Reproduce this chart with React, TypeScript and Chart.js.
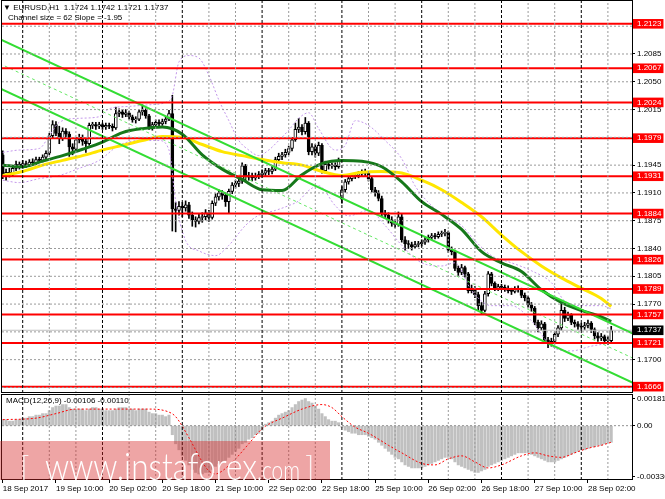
import React, { useEffect, useRef } from "react";
import { Chart, registerables } from "chart.js";

Chart.register(...registerables);

// ---------- DATA ----------
// H1 candles [open, high, low, close]; bar 0 = 18 Sep 2017 18:00
const candles: number[][] = [
  [1.1958, 1.1963, 1.1928, 1.1932], [1.1932, 1.194, 1.1926, 1.1936], [1.1936, 1.1941, 1.193, 1.1934], [1.1934, 1.1944, 1.1931, 1.1941],
  [1.1941, 1.195, 1.1938, 1.1946], [1.1946, 1.1949, 1.194, 1.1944], [1.1944, 1.1951, 1.1941, 1.1947], [1.1947, 1.195, 1.1942, 1.1945],
  [1.1945, 1.1952, 1.1943, 1.1949], [1.1949, 1.1953, 1.1945, 1.1948], [1.1948, 1.1955, 1.1946, 1.1952], [1.1952, 1.1955, 1.1948, 1.1951],
  [1.1951, 1.1958, 1.1949, 1.1955], [1.1955, 1.1963, 1.1953, 1.196], [1.196, 1.1985, 1.1958, 1.1982], [1.1982, 1.2001, 1.1979, 1.1996],
  [1.1996, 1.2, 1.1982, 1.1985], [1.1985, 1.1994, 1.1972, 1.1979], [1.1979, 1.1992, 1.1976, 1.1988], [1.1988, 1.1991, 1.198, 1.1984],
  [1.1984, 1.1987, 1.1956, 1.1968], [1.1968, 1.1972, 1.1958, 1.1965], [1.1965, 1.198, 1.1962, 1.1977], [1.1977, 1.1984, 1.1973, 1.198],
  [1.198, 1.1983, 1.197, 1.1975], [1.1975, 1.1978, 1.1961, 1.1972], [1.1972, 1.1998, 1.197, 1.1995], [1.1995, 1.1999, 1.1991, 1.1996],
  [1.1996, 1.1999, 1.199, 1.1994], [1.1994, 1.1999, 1.1991, 1.1996], [1.1996, 1.1998, 1.199, 1.1993], [1.1993, 1.1998, 1.199, 1.1995],
  [1.1995, 1.1998, 1.1991, 1.1994], [1.1994, 1.1997, 1.1988, 1.1992], [1.1992, 1.2018, 1.199, 1.201], [1.201, 1.2016, 1.2006, 1.2012],
  [1.2012, 1.2015, 1.2005, 1.2009], [1.2009, 1.2015, 1.2006, 1.2011], [1.2011, 1.2013, 1.2003, 1.2006], [1.2006, 1.2008, 1.1999, 1.2002],
  [1.2002, 1.2006, 1.1998, 1.2003], [1.2003, 1.2015, 1.2001, 1.2012], [1.2012, 1.2021, 1.2008, 1.2014], [1.2014, 1.2016, 1.2004, 1.2007],
  [1.2007, 1.2009, 1.199, 1.1993], [1.1993, 1.1999, 1.1989, 1.1996], [1.1996, 1.2002, 1.1993, 1.1999], [1.1999, 1.2002, 1.1994, 1.1997],
  [1.1997, 1.2003, 1.1995, 1.2], [1.2, 1.2006, 1.1997, 1.2003], [1.2003, 1.2014, 1.2001, 1.201], [1.201, 1.2033, 1.1862, 1.189],
  [1.189, 1.1898, 1.1861, 1.1888], [1.1888, 1.1899, 1.1882, 1.1893], [1.1893, 1.1898, 1.188, 1.1891], [1.1891, 1.19, 1.1887, 1.1895],
  [1.1895, 1.1898, 1.1878, 1.1882], [1.1882, 1.1886, 1.1868, 1.1876], [1.1876, 1.188, 1.1867, 1.1874], [1.1874, 1.1884, 1.1871, 1.1879],
  [1.1879, 1.1885, 1.1873, 1.188], [1.188, 1.1889, 1.1876, 1.1885], [1.1885, 1.1888, 1.1874, 1.1879], [1.1879, 1.19, 1.1877, 1.1897],
  [1.1897, 1.1909, 1.1894, 1.1905], [1.1905, 1.1914, 1.1901, 1.191], [1.191, 1.1913, 1.1902, 1.1907], [1.1907, 1.191, 1.1893, 1.1899],
  [1.1899, 1.1915, 1.1884, 1.1912], [1.1912, 1.1923, 1.1909, 1.192], [1.192, 1.1926, 1.1916, 1.1922], [1.1922, 1.1929, 1.1918, 1.1925],
  [1.1925, 1.1948, 1.1922, 1.1944], [1.1944, 1.1946, 1.1926, 1.193], [1.193, 1.1936, 1.1926, 1.1932], [1.1932, 1.1935, 1.1925, 1.1929],
  [1.1929, 1.1935, 1.1926, 1.1931], [1.1931, 1.1937, 1.1928, 1.1933], [1.1933, 1.1939, 1.193, 1.1935], [1.1935, 1.1941, 1.1932, 1.1938],
  [1.1938, 1.1941, 1.1933, 1.1937], [1.1937, 1.1944, 1.1934, 1.194], [1.194, 1.1955, 1.1938, 1.1952], [1.1952, 1.196, 1.1949, 1.1956],
  [1.1956, 1.1961, 1.1952, 1.1958], [1.1958, 1.1965, 1.1955, 1.1961], [1.1961, 1.1969, 1.1958, 1.1966], [1.1966, 1.198, 1.1963, 1.1977],
  [1.1977, 1.1998, 1.1975, 1.199], [1.199, 1.2004, 1.1986, 1.1993], [1.1993, 1.1996, 1.1983, 1.1987], [1.1987, 1.2005, 1.1984, 1.1998],
  [1.1998, 1.2, 1.1958, 1.1962], [1.1962, 1.1972, 1.1958, 1.1968], [1.1968, 1.1971, 1.1955, 1.196], [1.196, 1.1974, 1.1957, 1.197],
  [1.197, 1.1972, 1.1935, 1.1938], [1.1938, 1.195, 1.1935, 1.1946], [1.1946, 1.1949, 1.194, 1.1944], [1.1944, 1.1948, 1.1941, 1.1945],
  [1.1945, 1.1948, 1.1939, 1.1943], [1.1943, 1.1954, 1.1941, 1.195], [1.1902, 1.1918, 1.1897, 1.1914], [1.1914, 1.1927, 1.1911, 1.1924],
  [1.1924, 1.1931, 1.1921, 1.1928], [1.1928, 1.1934, 1.1925, 1.1931], [1.1931, 1.1935, 1.1928, 1.1932], [1.1932, 1.1937, 1.1929, 1.1934],
  [1.1934, 1.1939, 1.1931, 1.1936], [1.1936, 1.194, 1.1931, 1.1935], [1.1935, 1.1937, 1.1925, 1.1928], [1.1928, 1.193, 1.1911, 1.1914],
  [1.1914, 1.1917, 1.1906, 1.191], [1.191, 1.1913, 1.19, 1.1903], [1.1903, 1.1906, 1.188, 1.1884], [1.1884, 1.1888, 1.1878, 1.1882],
  [1.1882, 1.1885, 1.1872, 1.1876], [1.1876, 1.188, 1.1868, 1.1872], [1.1872, 1.1876, 1.1866, 1.187], [1.187, 1.1886, 1.1868, 1.188],
  [1.188, 1.1883, 1.1848, 1.1851], [1.1851, 1.1855, 1.1838, 1.1846], [1.1846, 1.185, 1.184, 1.1845], [1.1845, 1.1848, 1.1838, 1.1842],
  [1.1842, 1.1849, 1.184, 1.1845], [1.1845, 1.1849, 1.1842, 1.1846], [1.1846, 1.1851, 1.1843, 1.1848], [1.1848, 1.1854, 1.1845, 1.1851],
  [1.1851, 1.1857, 1.1848, 1.1854], [1.1854, 1.1859, 1.1851, 1.1856], [1.1856, 1.1859, 1.1852, 1.1855], [1.1855, 1.1861, 1.1853, 1.1858],
  [1.1858, 1.1862, 1.1855, 1.1859], [1.1859, 1.1864, 1.1856, 1.186], [1.186, 1.1862, 1.1835, 1.1838], [1.1838, 1.1842, 1.1832, 1.1836],
  [1.1836, 1.1838, 1.1812, 1.1815], [1.1815, 1.1818, 1.1806, 1.181], [1.181, 1.182, 1.1807, 1.1816], [1.1816, 1.1818, 1.1804, 1.1808],
  [1.1808, 1.181, 1.1784, 1.1787], [1.1787, 1.1794, 1.1784, 1.179], [1.179, 1.1792, 1.1778, 1.1782], [1.1782, 1.1785, 1.1762, 1.1768],
  [1.1768, 1.1772, 1.1757, 1.1762], [1.1762, 1.1786, 1.176, 1.1783], [1.1783, 1.1811, 1.178, 1.1808], [1.1808, 1.181, 1.1793, 1.1796],
  [1.1796, 1.1798, 1.1787, 1.179], [1.179, 1.1795, 1.1787, 1.1792], [1.1792, 1.1795, 1.1788, 1.1791], [1.1791, 1.1794, 1.1786, 1.1789],
  [1.1789, 1.1793, 1.1784, 1.1787], [1.1787, 1.179, 1.1782, 1.1786], [1.1786, 1.1792, 1.1784, 1.1789], [1.1789, 1.1793, 1.1785, 1.1788],
  [1.1788, 1.179, 1.1778, 1.1781], [1.1781, 1.1784, 1.1774, 1.1778], [1.1778, 1.178, 1.1766, 1.1769], [1.1769, 1.1772, 1.1761, 1.1765],
  [1.1765, 1.1767, 1.1744, 1.1747], [1.1747, 1.175, 1.1735, 1.174], [1.174, 1.1749, 1.1737, 1.1745], [1.1745, 1.1747, 1.1722, 1.1725],
  [1.1725, 1.1728, 1.1715, 1.172], [1.172, 1.1727, 1.1717, 1.1723], [1.1723, 1.1735, 1.172, 1.1732], [1.1732, 1.1743, 1.1729, 1.174],
  [1.174, 1.1772, 1.1737, 1.1762], [1.1762, 1.1766, 1.1748, 1.1752], [1.1752, 1.176, 1.1749, 1.1756], [1.1756, 1.1758, 1.1744, 1.1747],
  [1.1747, 1.175, 1.1741, 1.1745], [1.1745, 1.1748, 1.1738, 1.1742], [1.1742, 1.1746, 1.1737, 1.1741], [1.1741, 1.1747, 1.1738, 1.1743],
  [1.1743, 1.175, 1.174, 1.1746], [1.1746, 1.1748, 1.1734, 1.1738], [1.1738, 1.174, 1.1726, 1.173], [1.173, 1.1734, 1.1723, 1.1727],
  [1.1727, 1.1733, 1.1724, 1.1729], [1.1729, 1.1731, 1.172, 1.1724], [1.1724, 1.1729, 1.1719, 1.1724], [1.1724, 1.1742, 1.1721, 1.1737],
];

// fast MA (dark green) [bar, price]
const maFast: number[][] = [
  [0, 1.1945], [6, 1.1943], [12, 1.195], [18, 1.1957], [24, 1.1965], [30, 1.1974], [36, 1.1986], [42, 1.1991],
  [48, 1.1993], [54, 1.1984], [60, 1.1958], [66, 1.194], [72, 1.1927], [78, 1.1914], [84, 1.1913], [90, 1.1933],
  [96, 1.1947], [102, 1.1951], [108, 1.195], [114, 1.1943], [120, 1.1924], [126, 1.1899], [132, 1.1883], [138, 1.1864],
  [144, 1.1836], [150, 1.1822], [156, 1.1811], [162, 1.1788], [168, 1.1772], [174, 1.1762], [180, 1.1754], [183, 1.1748],
];
// slow MA (yellow) [bar, price]
const maSlow: number[][] = [
  [0, 1.1932], [6, 1.1937], [12, 1.1945], [18, 1.1951], [24, 1.1957], [30, 1.1964], [36, 1.197], [42, 1.1976],
  [48, 1.1981], [54, 1.198], [60, 1.1971], [66, 1.1962], [72, 1.1957], [78, 1.1952], [84, 1.1948], [90, 1.1945],
  [96, 1.1937], [102, 1.1932], [108, 1.1936], [114, 1.1937], [120, 1.1935], [126, 1.1926], [132, 1.1914], [138, 1.1898],
  [144, 1.188], [150, 1.1857], [156, 1.1836], [162, 1.1818], [168, 1.1803], [174, 1.179], [180, 1.1777], [183, 1.1767],
];
// envelope bands (violet dotted) [bar, price]
const bandUpper: number[][] = [
  [0, 1.1961], [5, 1.1964], [11, 1.1966], [14, 1.1982], [17, 1.1999], [23, 1.2004], [29, 1.2006], [32, 1.2016],
  [38, 1.2019], [44, 1.2021], [49, 1.2024], [51, 1.2033], [53, 1.2075], [56, 1.2083], [59, 1.208], [62, 1.2058],
  [65, 1.2027], [68, 1.2001], [71, 1.1976], [74, 1.1964], [77, 1.1957], [80, 1.1964], [83, 1.1976], [86, 1.1989],
  [89, 1.2004], [92, 1.2011], [95, 1.1991], [100, 1.1964], [103, 1.197], [106, 1.2001], [110, 1.1995], [115, 1.1976],
  [120, 1.1953], [124, 1.1919], [129, 1.1894], [133, 1.1881], [138, 1.1869], [142, 1.185], [147, 1.1831], [153, 1.1822],
  [159, 1.1812], [165, 1.1797], [169, 1.1774], [174, 1.1768], [180, 1.1768], [183, 1.1764],
];
const bandLower: number[][] = [
  [0, 1.1926], [5, 1.1923], [11, 1.1928], [17, 1.1932], [23, 1.1941], [29, 1.1951], [35, 1.197], [41, 1.1976],
  [47, 1.1976], [50, 1.1964], [52, 1.19], [55, 1.185], [59, 1.1837], [64, 1.1831], [68, 1.1844], [73, 1.1869],
  [77, 1.1882], [82, 1.1888], [86, 1.1894], [89, 1.19], [92, 1.1913], [95, 1.1919], [100, 1.1894], [104, 1.1881],
  [110, 1.1888], [115, 1.1869], [120, 1.1844], [126, 1.1822], [132, 1.1818], [136, 1.1822], [141, 1.1787], [147, 1.1768],
  [153, 1.1768], [159, 1.1749], [165, 1.1717], [171, 1.1711], [177, 1.1717], [183, 1.1721],
];
// regression channel (slope -1.95 pips/bar, size 62 pips) [bar, price]
const channelUpper: number[][] = [[-1, 1.2104], [190, 1.1732]];
const channelMiddle: number[][] = [[-1, 1.2073], [190, 1.1701]];
const channelLower: number[][] = [[-1, 1.2042], [190, 1.167]];

const levels = [1.2123, 1.2067, 1.2024, 1.1979, 1.1931, 1.1884, 1.1826, 1.1789, 1.1757, 1.1721, 1.1666];
const currentPrice = 1.1737;
const priceGrid = [1.212, 1.2085, 1.205, 1.2015, 1.198, 1.1945, 1.191, 1.1875, 1.184, 1.1805, 1.177, 1.1735, 1.17, 1.1665];
const hiddenPriceLabels = [1.212, 1.198, 1.1735, 1.1665];

const timeLabels = [
  "18 Sep 2017", "19 Sep 10:00", "20 Sep 02:00", "20 Sep 18:00", "21 Sep 10:00", "22 Sep 02:00",
  "22 Sep 18:00", "25 Sep 10:00", "26 Sep 02:00", "26 Sep 18:00", "27 Sep 10:00", "28 Sep 02:00",
];
const timeLabelBars = [0, 16, 32, 48, 64, 80, 96, 112, 128, 144, 160, 176];
const gridBars = [14, 22, 38, 46, 62, 70, 86, 94, 110, 118, 134, 142, 158, 166, 182];
const daySeparators = [6, 30, 54, 78, 102, 126, 150, 174];

// MACD(12,26,9) histogram (main) per bar, and signal line [bar, value]
const macdMain = [
  0.0004, 0.0004, 0.0003, 0.0003, 0.0004, 0.0004,
  0.0005, 0.0005, 0.0006, 0.0006, 0.0007, 0.0007, 0.0008, 0.0008, 0.001,
  0.0012, 0.0013, 0.0013, 0.0014, 0.0014, 0.0012, 0.0011, 0.0011,
  0.0011, 0.0011, 0.001, 0.0011, 0.0012, 0.0012, 0.0011, 0.0011, 0.001, 0.001,
  0.001, 0.0011, 0.0012, 0.0012, 0.0012, 0.0011, 0.0011, 0.001, 0.0011, 0.0011, 0.0011, 0.0009,
  0.0008, 0.0008, 0.0007, 0.0007, 0.0006, 0.0007,
  -0.0006,
  -0.0012, -0.0016, -0.002, -0.0023, -0.0026,
  -0.0029, -0.0031, -0.0032, -0.0032, -0.0031, -0.0031, -0.0029,
  -0.0027, -0.0025, -0.0024, -0.0023, -0.0021, -0.0019, -0.0017, -0.0015, -0.0012, -0.0011, -0.0009, -0.0008, -0.0006, -0.0005,
  -0.0003, 0.0001, 0.0002, 0.0003,
  0.0005, 0.0007, 0.0008, 0.0009, 0.001, 0.0012, 0.0014, 0.0016, 0.0017, 0.0018,
  0.0016, 0.0015, 0.0013, 0.0011, 0.0008, 0.0006, 0.0004, 0.0003, 0.0003, 0.0002,
  -0.0001,
  -0.0003, -0.0004, -0.0005, -0.0005, -0.0006, -0.0006, -0.0006, -0.0007, -0.0008,
  -0.0009, -0.0011, -0.0013, -0.0015, -0.0017, -0.0019, -0.0021, -0.0022, -0.0024, -0.0026, -0.0027, -0.0028,
  -0.0028, -0.0028, -0.0028, -0.0027, -0.0026, -0.0025, -0.0024,
  -0.0023, -0.0022, -0.0021, -0.0021, -0.0022, -0.0024, -0.0026,
  -0.0027, -0.0028, -0.0029, -0.003, -0.0031, -0.0031,
  -0.003, -0.0029, -0.0027, -0.0026, -0.0025, -0.0024, -0.0023, -0.0022, -0.0021, -0.002, -0.0019, -0.0018, -0.0018, -0.0018, -0.0018,
  -0.0019, -0.002, -0.0021, -0.0022, -0.0023, -0.0024, -0.0024, -0.0024, -0.0023,
  -0.0022, -0.0021, -0.002, -0.0019, -0.0018, -0.0017, -0.0016, -0.0016, -0.0015, -0.0014, -0.0014, -0.0013, -0.0013, -0.0012, -0.0011, -0.0011,
];
const macdSignal: number[][] = [
  [0, 0.0004], [10, 0.0005], [16, 0.0008], [22, 0.0011], [30, 0.0011], [38, 0.0011], [44, 0.0011], [50, 0.0009],
  [52, 0.0006], [56, -0.0008], [60, -0.0024], [62, -0.003], [64, -0.0032], [66, -0.003], [70, -0.0022], [74, -0.0012],
  [78, -0.0002], [80, 0.0001], [84, 0.0005], [90, 0.0011], [96, 0.0014], [99, 0.0012], [102, 0.0006], [106, -0.0001],
  [110, -0.0005], [116, -0.0013], [120, -0.0018], [126, -0.0025], [130, -0.0026], [134, -0.0022], [138, -0.002], [142, -0.0024],
  [146, -0.0028], [150, -0.0026], [156, -0.002], [160, -0.0018], [164, -0.002], [168, -0.0021], [172, -0.0018], [176, -0.0015],
  [180, -0.0013], [183, -0.0011],
];
const macdTicks = [0.00181, 0, -0.00336];

// ---------- LAYOUT CONSTANTS ----------
const X_MIN = -0.2256;
const X_MAX = 189.25;
const P_MIN = 1.1658;
const P_MAX = 1.2153;
const M_MIN = -0.0036;
const M_MAX = 0.0021;
const FONT = "'Liberation Sans', Arial, sans-serif";
const GRID_GRAY = "#9a9a9a";

const near = (a: number, b: number) => Math.abs(a - b) < 1e-7;
const pts = (arr: number[][]) => arr.map((p) => ({ x: p[0], y: p[1] }));

// frame around the plot area
const framePlugin = {
  id: "frame",
  afterDraw(chart: any) {
    const { ctx, chartArea: a } = chart;
    ctx.save();
    ctx.strokeStyle = "#000";
    ctx.lineWidth = 1;
    ctx.strokeRect(Math.round(a.left) - 0.5, Math.round(a.top) + 0.5, Math.round(a.right - a.left) + 1, Math.round(a.bottom - a.top) - 1);
    ctx.restore();
  },
};

const noPad = (s: any) => {
  s.paddingLeft = 0;
  s.paddingRight = 0;
  s.paddingTop = 0;
  s.paddingBottom = 0;
};

const lineDs = (data: any[], color: string, width: number, order: number, dash: number[] = [], smooth = false) => ({
  type: "line",
  data,
  borderColor: color,
  borderWidth: width,
  borderDash: dash,
  pointRadius: 0,
  fill: false,
  order,
  tension: 0,
  cubicInterpolationMode: smooth ? "monotone" : "default",
});

// dotted grid lines drawn as datasets through the chart's scales
const verticalGridDs = (yMin: number, yMax: number) => [
  ...gridBars.map((b) => lineDs([{ x: b, y: yMin }, { x: b, y: yMax }], GRID_GRAY, 1, -2, [2, 2])),
  ...daySeparators.map((b) => lineDs([{ x: b, y: yMin }, { x: b, y: yMax }], "#000", 1, -3, [3, 2])),
];

const axisGrid = { drawOnChartArea: false, drawTicks: true, tickLength: 3, tickColor: "#000", color: "#000", offset: false };

export default function App() {
  const priceRef = useRef<HTMLCanvasElement | null>(null);
  const macdRef = useRef<HTMLCanvasElement | null>(null);
  const wwwRef = useRef<HTMLSpanElement | null>(null);
  const comRef = useRef<HTMLSpanElement | null>(null);

  useEffect(() => {
    // fit the watermark words to their widths in the reference
    const fit = (el: HTMLSpanElement | null, target: number) => {
      if (!el) return;
      el.style.transform = "none";
      const w = el.getBoundingClientRect().width;
      if (w > 0) el.style.transform = `scaleX(${target / w})`;
    };
    fit(wwwRef.current, 212);
    fit(comRef.current, 43);

    const charts: Chart[] = [];
    const tickFont = { family: FONT, size: 8 };

    // ----- price chart -----
    const priceTicks = [...priceGrid, ...levels, currentPrice];
    const isLevel = (v: number) => levels.some((l) => near(l, v));
    const isCurrent = (v: number) => near(v, currentPrice);

    const datasets: any[] = [
      ...verticalGridDs(P_MIN, P_MAX),
      ...priceGrid.map((v) => lineDs([{ x: X_MIN, y: v }, { x: X_MAX, y: v }], GRID_GRAY, 1, -2, [2, 2])),
      {
        type: "bar",
        data: candles.map((c, i) => ({ x: i, y: [c[2], c[1]] })),
        backgroundColor: "#000",
        barThickness: 1,
        grouped: false,
        order: 20,
      },
      {
        type: "bar",
        data: candles.map((c, i) => ({ x: i, y: [c[0], c[3]] })),
        backgroundColor: (c: any) => {
          const k = candles[c.dataIndex];
          return k && k[3] >= k[0] ? "#fff" : "#000";
        },
        borderColor: "#000",
        borderWidth: 1,
        borderSkipped: false,
        barThickness: 3,
        minBarLength: 1,
        grouped: false,
        order: 19,
      },
      lineDs(pts(bandUpper), "#c397ea", 1, 18, [2, 2], true),
      lineDs(pts(bandLower), "#c397ea", 1, 18, [2, 2], true),
      lineDs(pts(maSlow), "#ffe600", 3, 16, [], true),
      lineDs(pts(maFast), "#16781a", 3, 15, [], true),
      lineDs([{ x: X_MIN, y: currentPrice }, { x: X_MAX, y: currentPrice }], "#c0c0c0", 1, 14),
      lineDs(pts(channelMiddle), "#66e866", 1, 12, [3, 3]),
      lineDs(pts(channelUpper), "#33dd33", 2, 11),
      lineDs(pts(channelLower), "#33dd33", 2, 11),
      ...levels.map((l) => lineDs([{ x: X_MIN, y: l }, { x: X_MAX, y: l }], "#ff0000", 2, 5)),
    ];

    if (priceRef.current) {
      charts.push(
        new Chart(priceRef.current, {
          type: "bar",
          data: { datasets },
          options: {
            responsive: false,
            animation: false,
            events: [],
            layout: { padding: { left: 2, top: 0, right: 0, bottom: 0 }, autoPadding: false },
            plugins: { legend: { display: false }, tooltip: { enabled: false } },
            scales: {
              x: {
                type: "linear",
                min: X_MIN,
                max: X_MAX,
                bounds: "data",
                offset: false,
                position: "bottom",
                ticks: { display: false },
                grid: { ...axisGrid, drawTicks: false },
                border: { display: false },
                afterFit: (s: any) => { s.height = 0; noPad(s); },
              },
              y: {
                type: "linear",
                position: "right",
                min: P_MIN,
                max: P_MAX,
                bounds: "data",
                afterFit: (s: any) => { s.width = 33; noPad(s); },
                afterBuildTicks: (s: any) => {
                  s.ticks = priceTicks.map((v) => ({ value: v }));
                },
                ticks: {
                  autoSkip: false,
                  padding: 2,
                  font: tickFont,
                  callback: (v: any) => (hiddenPriceLabels.some((h) => near(h, v)) ? "" : Number(v).toFixed(4)),
                  color: (c: any) => (c.tick && (isLevel(c.tick.value) || isCurrent(c.tick.value)) ? "#fff" : "#000"),
                  showLabelBackdrop: true,
                  backdropPadding: { left: 4, right: 2, top: 0, bottom: 0 },
                  backdropColor: (c: any) =>
                    c.tick && isLevel(c.tick.value) ? "#ff0000" : c.tick && isCurrent(c.tick.value) ? "#000" : "rgba(0,0,0,0)",
                },
                grid: axisGrid,
                border: { display: false },
              },
            },
          } as any,
          plugins: [framePlugin],
        } as any)
      );
    }

    // ----- MACD chart -----
    if (macdRef.current) {
      charts.push(
        new Chart(macdRef.current, {
          type: "bar",
          data: {
            datasets: [
              ...verticalGridDs(M_MIN, M_MAX),
              lineDs([{ x: X_MIN, y: 0 }, { x: X_MAX, y: 0 }], "#909090", 1, -1, [2, 2]),
              {
                type: "bar",
                data: macdMain.map((v, i) => ({ x: i, y: v })),
                backgroundColor: "#c0c0c0",
                barThickness: 2.4,
                grouped: false,
                order: 5,
              },
              lineDs(pts(macdSignal), "#ff0000", 1, 1, [2, 2], true),
            ] as any,
          },
          options: {
            responsive: false,
            animation: false,
            events: [],
            layout: { padding: { left: 2, top: 1, right: 0, bottom: 0 }, autoPadding: false },
            plugins: { legend: { display: false }, tooltip: { enabled: false } },
            scales: {
              x: {
                type: "linear",
                position: "bottom",
                min: X_MIN,
                max: X_MAX,
                bounds: "data",
                offset: false,
                afterFit: (s: any) => { s.height = 19; noPad(s); },
                afterBuildTicks: (s: any) => {
                  s.ticks = timeLabelBars.map((v) => ({ value: v }));
                },
                ticks: {
                  autoSkip: false,
                  maxRotation: 0,
                  minRotation: 0,
                  align: "start",
                  padding: 1,
                  font: tickFont,
                  color: "#000",
                  callback: (_v: any, i: number) => timeLabels[i],
                },
                grid: axisGrid,
                border: { display: false },
              },
              y: {
                type: "linear",
                position: "right",
                min: M_MIN,
                max: M_MAX,
                bounds: "data",
                afterFit: (s: any) => { s.width = 33; noPad(s); },
                afterBuildTicks: (s: any) => {
                  s.ticks = macdTicks.map((v) => ({ value: v }));
                },
                ticks: {
                  autoSkip: false,
                  padding: 2,
                  font: tickFont,
                  color: "#000",
                  callback: (v: any) => (v === 0 ? "0.00" : Number(v).toFixed(5)),
                },
                grid: axisGrid,
                border: { display: false },
              },
            },
          } as any,
          plugins: [framePlugin],
        } as any)
      );
    }

    return () => charts.forEach((c) => c.destroy());
  }, []);

  const textStyle: any = { position: "absolute", font: `8px ${FONT}`, color: "#000", whiteSpace: "pre", lineHeight: "10px" };
  const wmFont = "Lato, 'Liberation Sans', sans-serif";

  return (
    <div style={{ position: "fixed", left: 0, top: 0, width: 665, height: 499, background: "#fff", overflow: "hidden" }}>
      <canvas ref={priceRef} width={665} height={393} style={{ position: "absolute", left: 0, top: 0, display: "block" }} />
      <canvas ref={macdRef} width={665} height={106} style={{ position: "absolute", left: 0, top: 393, display: "block" }} />
      <div style={{ ...textStyle, left: 3, top: 3 }}>{"\u25BC EURUSD,H1  1.1724 1.1742 1.1721 1.1737"}</div>
      <div style={{ ...textStyle, left: 8, top: 13 }}>{"Channel size = 62 Slope = -1.95"}</div>
      <div style={{ ...textStyle, left: 6, top: 396 }}>{"MACD(12,26,9) -0.00106 -0.00110"}</div>
      <div
        style={{
          position: "absolute",
          left: 0,
          top: 441,
          width: 330,
          height: 39,
          background: "rgba(214,40,40,0.42)",
          overflow: "hidden",
          color: "#fff",
          fontFamily: wmFont,
          fontWeight: 300,
        }}
      >
        <span style={{ position: "absolute", left: 20, top: 10, fontSize: 32, lineHeight: "32px", opacity: 0.85 }}>[</span>
        <span
          ref={wwwRef}
          style={{ position: "absolute", left: 45, top: 5, fontSize: 38, lineHeight: "38px", transformOrigin: "left", whiteSpace: "pre" }}
        >
          www.instaforex
        </span>
        <span
          ref={comRef}
          style={{ position: "absolute", left: 257, top: 14, fontSize: 28, lineHeight: "28px", transformOrigin: "left", whiteSpace: "pre" }}
        >
          .com
        </span>
        <span style={{ position: "absolute", left: 305, top: 10, fontSize: 32, lineHeight: "32px", opacity: 0.85 }}>]</span>
      </div>
    </div>
  );
}
